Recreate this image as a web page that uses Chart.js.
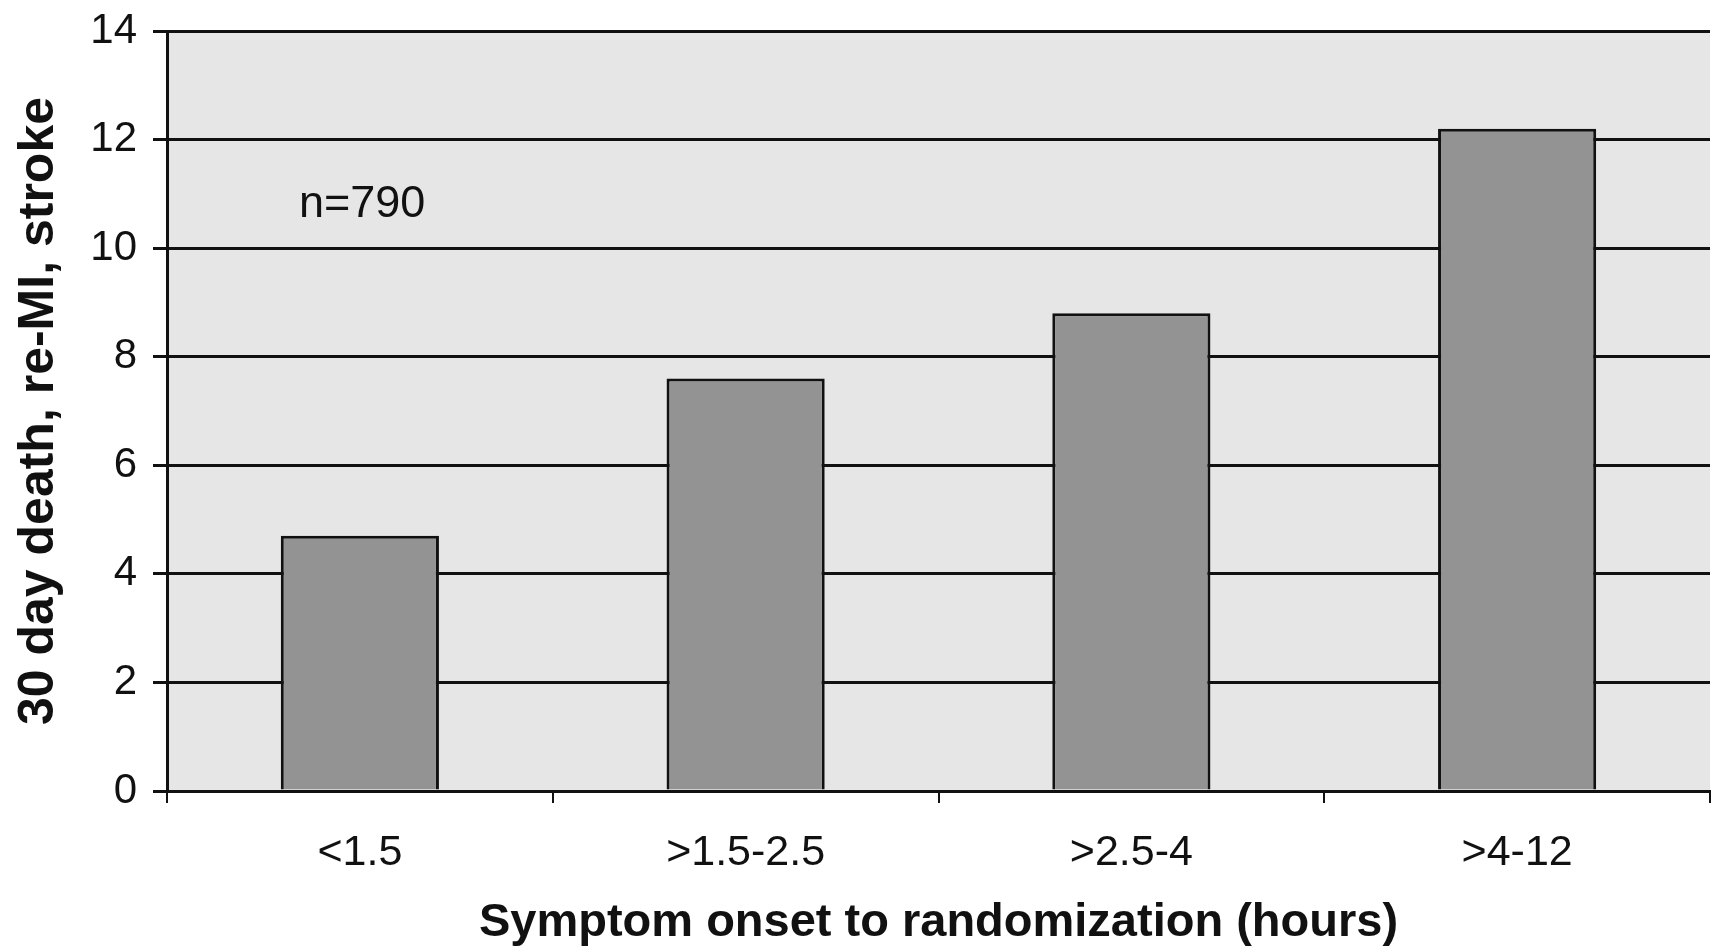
<!DOCTYPE html>
<html>
<head>
<meta charset="utf-8">
<script src="https://cdn.jsdelivr.net/npm/chart.js@4.4.1/dist/chart.umd.min.js"></script>
<style>
  html, body { margin: 0; padding: 0; background: #fff; }
  #wrap { width: 1719px; height: 951px; }
</style>
</head>
<body>
<div id="wrap"><canvas id="c" width="1719" height="951"></canvas></div>
<script>
const categories = ['<1.5', '>1.5-2.5', '>2.5-4', '>4-12'];
const eventRates = [4.7, 7.6, 8.8, 12.2];
const yTicks = [0, 2, 4, 6, 8, 10, 12, 14];
const sampleNote = 'n=790';

const FONT = '"Liberation Sans", Arial, Helvetica, sans-serif';

// Light grey plot area behind the bars, plus the sample-size note
const plotArea = {
  id: 'plotArea',
  beforeDraw(chart) {
    const { ctx, chartArea: a } = chart;
    ctx.save();
    ctx.fillStyle = '#e6e6e6';
    ctx.fillRect(a.left, a.top, a.right - a.left, a.bottom - a.top);
    ctx.restore();
  },
  afterDatasetsDraw(chart) {
    const { ctx, chartArea: a } = chart;
    const y = chart.scales.y.getPixelForValue(10.8);
    ctx.save();
    ctx.fillStyle = '#111';
    ctx.font = '45px ' + FONT;
    ctx.textBaseline = 'middle';
    ctx.textAlign = 'left';
    ctx.fillText(sampleNote, a.left + 132, y);
    ctx.restore();
  }
};

new Chart(document.getElementById('c'), {
  type: 'bar',
  data: {
    labels: categories,
    datasets: [{
      data: eventRates,
      backgroundColor: '#939393',
      borderColor: '#111',
      borderWidth: 3,
      borderSkipped: 'bottom',
      categoryPercentage: 1.0,
      barPercentage: 0.41
    }]
  },
  options: {
    responsive: false,
    animation: false,
    devicePixelRatio: 1,
    layout: { padding: { top: 31, right: 9, left: 0, bottom: 0 } },
    plugins: { legend: { display: false }, tooltip: { enabled: false } },
    scales: {
      x: {
        afterFit(s) { s.height = 160; s.paddingLeft = 0; s.paddingRight = 0; },
        grid: {
          offset: true,
          drawOnChartArea: false,
          drawTicks: true,
          tickLength: 12,
          color: '#111',
          lineWidth: 2
        },
        border: { display: true, color: '#111', width: 3 },
        ticks: {
          color: '#111',
          font: { family: FONT, size: 43 },
          padding: 24
        },
        title: {
          display: true,
          text: 'Symptom onset to randomization (hours)',
          color: '#111',
          font: { family: FONT, size: 47, weight: 'bold' },
          padding: { top: 13, bottom: 0 }
        }
      },
      y: {
        min: 0,
        max: 14,
        afterFit(s) { s.width = 167; s.paddingTop = 0; s.paddingBottom = 0; },
        afterBuildTicks(s) { s.ticks = yTicks.map(v => ({ value: v })); },
        grid: {
          color: '#111',
          lineWidth: 3,
          tickLength: 14,
          drawTicks: true
        },
        border: { display: true, color: '#111', width: 3 },
        ticks: {
          color: '#111',
          font: { family: FONT, size: 42 },
          padding: 16
        },
        title: {
          display: true,
          text: '30 day death, re-MI, stroke',
          color: '#111',
          font: { family: FONT, size: 50, weight: 'bold' },
          padding: { top: 9, bottom: 0 }
        }
      }
    }
  },
  plugins: [plotArea]
});
</script>
</body>
</html>
